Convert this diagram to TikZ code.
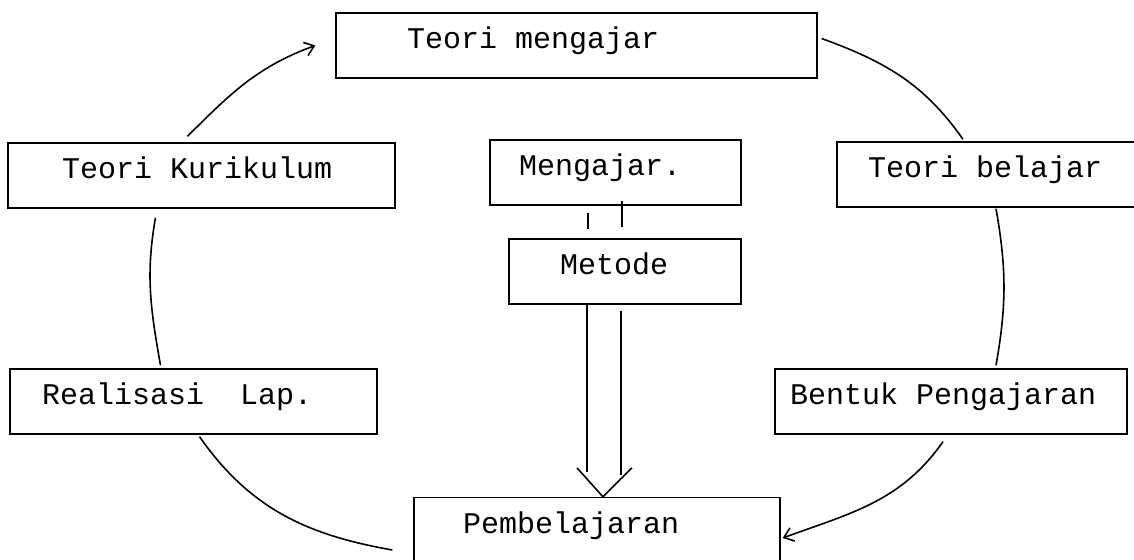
\documentclass[tikz,border=0pt]{standalone}
\usepackage{fontspec}
\setmonofont{Liberation Mono}[WordSpace={1,0,0}]
\usepackage{tikz}
\usetikzlibrary{arrows.meta, calc}

\newcommand{\gap}{\hspace*{0.6em}}

\begin{document}
\begin{tikzpicture}[
  x=1pt, y=-1pt,
  box/.style 2 args={rectangle, draw, line width=1.3pt, text width=#1, inner xsep=#2, minimum height=65pt, align=left, text height=18pt, text depth=12pt, font=\ttfamily\fontsize{30}{30}\selectfont},
  link/.style={line width=1.6pt},
  arrow/.style={line width=1.6pt, -{Straight Barb[length=9pt, width=14pt]}}
]
\useasboundingbox (0,0) rectangle (1134,559);

\node (tm) [box={339pt}{71pt}] at (576.5,45.5) {Teori\gap mengajar};
\node (kur) [box={279pt}{54pt}] at (201.5,175.5) {Teori\gap Kurikulum};
\node (meng) [box={193pt}{29pt}] at (615.5,172.5) {Mengajar.};
\node (tb) [box={246pt}{31pt}] at (991,174.5) {Teori\gap belajar};
\node (metode) [box={130pt}{51pt}] at (625,271.5) {Metode};
\node (real) [box={303pt}{32pt}] at (193.5,401.5) {Realisasi\gap\gap Lap.};
\node (bentuk) [box={322pt}{15pt}] at (951,401.5) {Bentuk\gap Pengajaran};
\node (pemb) [box={268pt}{49pt}] at (597,530) {Pembelajaran};

\draw [arrow] ([xshift=-14pt, yshift=6pt]kur.north) to[out=45, in=200] ([xshift=-20pt]tm.west);
\draw [link] ([xshift=-28pt, yshift=2pt]tb.north) to[out=125, in=-20] ([xshift=4pt, yshift=7pt]tm.east);
\draw [link] ([xshift=-46pt, yshift=-9pt]kur.south) to[out=-100, in=100] ([xshift=-33pt, yshift=3pt]real.north);
\draw [link] ([xshift=5pt, yshift=-1pt]tb.south) to[out=-80, in=80] ([xshift=45pt, yshift=3pt]bentuk.north);
\draw [link] ([xshift=6pt, yshift=-2pt]real.south) to[out=-55, in=170] ([xshift=-21pt, yshift=-20pt]pemb.west);
\draw [arrow] ([xshift=-8pt, yshift=-7pt]bentuk.south) to[out=-125, in=20] ([xshift=2pt, yshift=-8pt]pemb.east);

\draw [link] ([xshift=-27.5pt, yshift=-7pt]meng.south) -- ([xshift=-37pt, yshift=9pt]metode.north);
\draw [link] ([xshift=6.5pt, yshift=5pt]meng.south) -- ([xshift=-3pt, yshift=11pt]metode.north);

\draw [link] ([xshift=-38pt]metode.south) -- ([xshift=-10pt, yshift=25pt]pemb.north);
\draw [link] ([xshift=-4pt, yshift=-6pt]metode.south) -- ([xshift=24pt, yshift=22pt]pemb.north);
\draw [link] ([xshift=-20pt, yshift=29pt]pemb.north) -- ([xshift=6pt]pemb.north) -- ([xshift=35pt, yshift=29pt]pemb.north);

\end{tikzpicture}
\end{document}
